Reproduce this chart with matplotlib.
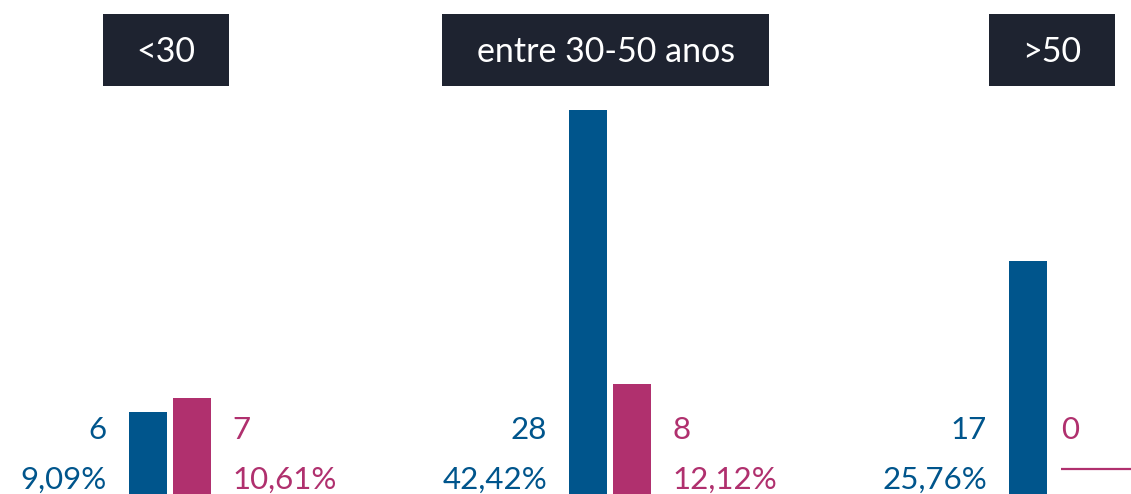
import matplotlib
matplotlib.use("Agg")
import matplotlib.pyplot as plt
from matplotlib.patches import Rectangle
from matplotlib.transforms import offset_copy

plt.rcParams['font.family'] = ['Lato', 'DejaVu Sans']

grupos = ["<30", "entre 30-50 anos", ">50"]
azul_vals = [6, 28, 17]
rosa_vals = [7, 8, 0]
azul_pct = ["9,09%", "42,42%", "25,76%"]
rosa_pct = ["10,61%", "12,12%", ""]

AZUL = "#00558c"
ROSA = "#b0306e"
ESCURO = "#1e2330"

W, H = 1131, 494
fig = plt.figure(figsize=(W / 100, H / 100), dpi=100)
ax = fig.add_axes([0, 0, 1, 1])

px = 1 / 440  # largura de um pixel em unidades de x
ax.set_xlim(-170 * px, (W - 170) * px)
ax.set_ylim(0, 36.02)
ax.axis('off')

larg = 38 * px
desl = 22 * px
xs = list(range(len(grupos)))
tx = ax.get_xaxis_transform()
fs = 22.5

for i in xs:
    ax.bar(i - desl, azul_vals[i], width=larg, color=AZUL)
    xa = i - desl - larg / 2 - 22 * px
    if rosa_vals[i] > 0:
        ax.bar(i + desl, rosa_vals[i], width=larg, color=ROSA)
        xr = i + desl + larg / 2 + 21 * px
    else:
        # barra vazia vira um traço fino
        xr = i - desl + larg / 2 + 14 * px
        tr = offset_copy(ax.transData, fig=fig, y=25, units='dots')
        ax.plot([xr, xr + 90 * px], [rosa_vals[i], rosa_vals[i]],
                color=ROSA, lw=1.6, transform=tr, solid_capstyle='butt')

    ax.text(xa, 55 / H, str(azul_vals[i]), color=AZUL, fontsize=fs,
            ha='right', va='baseline', transform=tx)
    ax.text(xa, 5 / H, azul_pct[i], color=AZUL, fontsize=fs,
            ha='right', va='baseline', transform=tx)
    ax.text(xr, 55 / H, str(rosa_vals[i]), color=ROSA, fontsize=fs,
            ha='left', va='baseline', transform=tx)
    ax.text(xr, 5 / H, rosa_pct[i], color=ROSA, fontsize=fs,
            ha='left', va='baseline', transform=tx)

# caixas de título
caixa_larg = [126, 327, 126]
caixa_cx = [166, 606, 1052]
for nome, lw, cx in zip(grupos, caixa_larg, caixa_cx):
    x0 = (cx - lw / 2) / W
    fig.add_artist(Rectangle((x0, 1 - 86 / H), lw / W, 72 / H,
                             transform=fig.transFigure, color=ESCURO,
                             lw=0))
    fig.text(cx / W, 1 - 52 / H, nome, color='white', fontsize=24.5,
             ha='center', va='center')

fig.savefig("out.png", dpi=100)
